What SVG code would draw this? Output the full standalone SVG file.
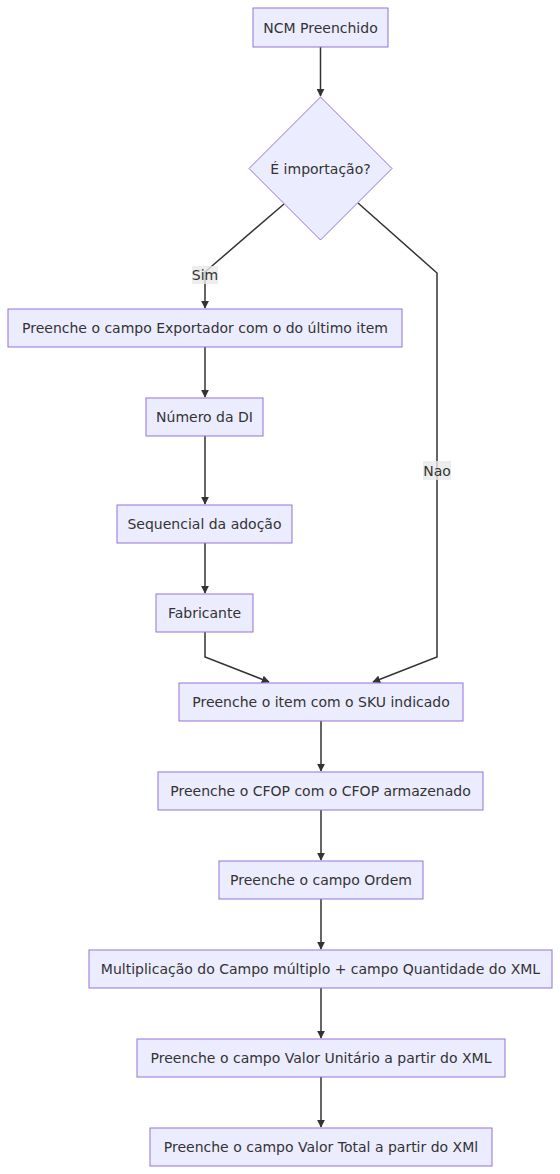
<svg xmlns="http://www.w3.org/2000/svg" width="560" height="1174" viewBox="0 0 560 1174">
<defs>
<style>
.node rect,.node polygon{fill:#ECECFF;stroke:#9370DB;stroke-width:1px}
.node text,.lbl text{font-family:"DejaVu Sans",sans-serif;font-size:14px;fill:#333;text-anchor:middle;dominant-baseline:central}
.edge{fill:none;stroke:#333;stroke-width:1.5px}
.lbl rect{fill:#e8e8e8;opacity:0.8}
</style>
<marker id="arr" viewBox="0 0 10 10" refX="9" refY="5" markerWidth="8" markerHeight="8" markerUnits="userSpaceOnUse" orient="auto"><path d="M0,0L10,5L0,10z" fill="#333"/></marker>
</defs>
<rect width="560" height="1174" fill="#fff"/>
<g id="edges">
<path class="edge" d="M320.5,47V96" marker-end="url(#arr)"/>
<path class="edge" d="M284,204L205,272V308" marker-end="url(#arr)"/>
<path class="edge" d="M358,203L437,273V657L373,682" marker-end="url(#arr)"/>
<path class="edge" d="M205,347V397" marker-end="url(#arr)"/>
<path class="edge" d="M205,436V504" marker-end="url(#arr)"/>
<path class="edge" d="M205,543V593" marker-end="url(#arr)"/>
<path class="edge" d="M205,632V657L269,682" marker-end="url(#arr)"/>
<path class="edge" d="M321,721V771" marker-end="url(#arr)"/>
<path class="edge" d="M321,810V860" marker-end="url(#arr)"/>
<path class="edge" d="M321,899V949" marker-end="url(#arr)"/>
<path class="edge" d="M321,988V1038" marker-end="url(#arr)"/>
<path class="edge" d="M321,1077V1127" marker-end="url(#arr)"/>
</g>
<g id="label-sim" class="lbl"><rect x="192" y="266" width="26" height="18"/><text x="205" y="275">Sim</text></g>
<g id="label-nao" class="lbl"><rect x="423" y="461" width="28" height="19"/><text x="437" y="470.5">Nao</text></g>
<g id="n1" class="node"><rect x="253" y="8" width="135" height="39"/><text x="320.5" y="27.5">NCM Preenchido</text></g>
<g id="n2" class="node"><polygon points="320.5,97 392,168.5 320.5,240 249,168.5"/><text x="320.5" y="168.5">É importação?</text></g>
<g id="n3" class="node"><rect x="8" y="309" width="394" height="38"/><text x="205" y="328">Preenche o campo Exportador com o do último item</text></g>
<g id="n4" class="node"><rect x="146" y="398" width="117" height="38"/><text x="204.5" y="417">Número da DI</text></g>
<g id="n5" class="node"><rect x="117" y="505" width="175" height="38"/><text x="204.5" y="524">Sequencial da adoção</text></g>
<g id="n6" class="node"><rect x="156" y="594" width="97" height="38"/><text x="204.5" y="613">Fabricante</text></g>
<g id="n7" class="node"><rect x="179" y="683" width="284" height="38"/><text x="321" y="702">Preenche o item com o SKU indicado</text></g>
<g id="n8" class="node"><rect x="158" y="772" width="325" height="38"/><text x="320.5" y="791">Preenche o CFOP com o CFOP armazenado</text></g>
<g id="n9" class="node"><rect x="219" y="861" width="204" height="38"/><text x="321" y="880">Preenche o campo Ordem</text></g>
<g id="n10" class="node"><rect x="89" y="950" width="463" height="38"/><text x="320.5" y="969">Multiplicação do Campo múltiplo + campo Quantidade do XML</text></g>
<g id="n11" class="node"><rect x="137" y="1039" width="368" height="38"/><text x="321" y="1058">Preenche o campo Valor Unitário a partir do XML</text></g>
<g id="n12" class="node"><rect x="150" y="1128" width="342" height="38"/><text x="321" y="1147">Preenche o campo Valor Total a partir do XMl</text></g>
</svg>
